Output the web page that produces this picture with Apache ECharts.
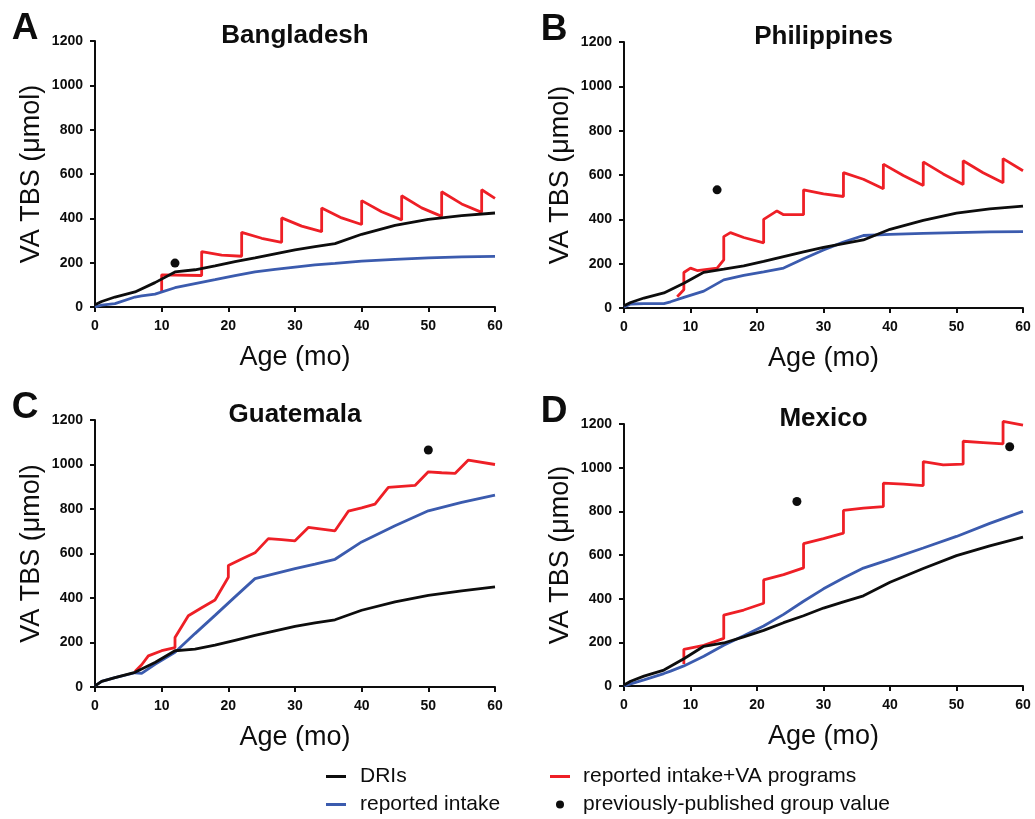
<!DOCTYPE html>
<html>
<head>
<meta charset="utf-8">
<script src="https://cdn.jsdelivr.net/npm/echarts@6/dist/echarts.min.js"></script>
<style>
  html, body { margin: 0; padding: 0; background: #fff; }
  #chart { width: 1035px; height: 819px; }
</style>
</head>
<body>
<div id="chart"></div>
<script>
// ages (months)
const driAge = [0, 1, 3, 6, 9, 12, 15, 18, 21, 24, 27, 30, 33, 36, 40, 45, 50, 55, 60];
const intakeAge = [0, 1, 3, 6, 7, 9, 12, 15, 18, 21, 24, 27, 30, 33, 36, 40, 45, 50, 55, 60];

// DRIs
const driBangladesh = [10, 25, 45, 68, 110, 158, 168, 185, 205, 222, 240, 258, 272, 286, 328, 368, 395, 412, 424];
const driPhilippines = [10, 25, 45, 68, 112, 161, 175, 190, 210, 232, 253, 274, 290, 307, 355, 395, 428, 447, 460];
const driGuatemala = [5, 25, 42, 66, 110, 163, 170, 188, 210, 232, 252, 272, 288, 302, 345, 383, 412, 432, 450];
const driMexico = [5, 22, 45, 73, 125, 182, 197, 225, 255, 290, 322, 357, 385, 413, 475, 538, 597, 642, 682];

// reported intake
const intakeBangladesh = [0, 8, 15, 45, 50, 58, 87, 105, 123, 142, 158, 170, 180, 190, 197, 207, 215, 222, 226, 228];
const intakePhilippines = [5, 18, 20, 20, 28, 48, 76, 127, 147, 163, 180, 222, 262, 297, 327, 332, 337, 340, 343, 345];
const intakeGuatemala = [5, 25, 42, 64, 61, 102, 156, 240, 322, 405, 487, 510, 532, 552, 574, 652, 725, 792, 830, 862];
const intakeMexico = [0, 10, 28, 57, 68, 92, 136, 187, 230, 275, 328, 388, 445, 495, 540, 580, 632, 685, 745, 800];

// reported intake + VA programs
const progAgeBangladesh = [10, 10, 16, 16, 19, 22, 22, 25, 28, 28, 31, 34, 34, 37, 40, 40, 43, 46, 46, 49, 52, 52, 55, 58, 58, 60];
const progBangladesh = [72, 145, 142, 250, 234, 229, 337, 310, 292, 402, 365, 340, 447, 402, 372, 480, 430, 393, 502, 447, 409, 520, 465, 427, 529, 490];
const progAgePhilippines = [8, 9, 9, 10, 11, 14, 15, 15, 16, 18, 21, 21, 23, 24, 27, 27, 30, 33, 33, 36, 39, 39, 42, 45, 45, 48, 51, 51, 54, 57, 57, 60];
const progPhilippines = [51, 82, 160, 180, 169, 180, 217, 322, 340, 318, 294, 400, 438, 421, 421, 533, 515, 503, 611, 581, 538, 649, 598, 553, 659, 605, 557, 664, 610, 565, 674, 619];
const progAgeGuatemala = [6, 7, 8, 10, 12, 12, 14, 16, 18, 20, 20, 22, 24, 26, 28, 30, 32, 34, 36, 38, 40, 42, 44, 46, 48, 50, 52, 54, 56, 60];
const progGuatemala = [70, 100, 140, 163, 177, 222, 320, 356, 391, 493, 546, 575, 603, 667, 662, 657, 717, 710, 702, 790, 805, 822, 897, 902, 906, 967, 963, 960, 1020, 1000];
const progAgeMexico = [9, 9, 12, 15, 15, 18, 21, 21, 24, 27, 27, 30, 33, 33, 36, 39, 39, 42, 45, 45, 48, 51, 51, 54, 57, 57, 60];
const progMexico = [101, 168, 186, 218, 325, 348, 379, 486, 510, 541, 652, 675, 700, 804, 815, 822, 929, 925, 918, 1028, 1013, 1016, 1121, 1115, 1109, 1212, 1195];

// previously-published group values
const pubAgeBangladesh = [12];
const pubBangladesh = [198];
const pubAgePhilippines = [14];
const pubPhilippines = [533];
const pubAgeGuatemala = [50];
const pubGuatemala = [1065];
const pubAgeMexico = [26, 58];
const pubMexico = [845, 1096];

const countries = ["Bangladesh", "Philippines", "Guatemala", "Mexico"];
const letters = ["A", "B", "C", "D"];
const xTicks = [0, 10, 20, 30, 40, 50, 60];
const yTicks = [0, 200, 400, 600, 800, 1000, 1200];

const panels = [
  { dri: driBangladesh, intake: intakeBangladesh, progAge: progAgeBangladesh, prog: progBangladesh, pubAge: pubAgeBangladesh, pub: pubBangladesh },
  { dri: driPhilippines, intake: intakePhilippines, progAge: progAgePhilippines, prog: progPhilippines, pubAge: pubAgePhilippines, pub: pubPhilippines },
  { dri: driGuatemala, intake: intakeGuatemala, progAge: progAgeGuatemala, prog: progGuatemala, pubAge: pubAgeGuatemala, pub: pubGuatemala },
  { dri: driMexico, intake: intakeMexico, progAge: progAgeMexico, prog: progMexico, pubAge: pubAgeMexico, pub: pubMexico },
];

// grid boxes in px: left, top, width, height
const boxes = [
  [95, 41, 400, 266],
  [624, 42, 399, 266],
  [95, 420, 400, 267],
  [624, 424, 399, 262],
];

const FONT = "Arial, 'Liberation Sans', sans-serif";
const INK = "#0d0d0d";
const RED = "#ee1f26";
const BLUE = "#3b5bae";
const LINE_ICON = "path://M0,0H20V3H0Z";

const zip = (xs, ys) => xs.map((x, i) => [x, ys[i]]);

const grid = [], xAxis = [], yAxis = [], series = [], graphic = [];

boxes.forEach((b, i) => {
  const [left, top, width, height] = b;
  grid.push({ left, top, width, height });

  const axisCommon = {
    gridIndex: i,
    type: "value",
    axisLine: { show: true, lineStyle: { color: INK, width: 2 } },
    axisTick: { show: true, length: 5, lineStyle: { color: INK, width: 2 } },
    splitLine: { show: false },
    axisLabel: {
      color: INK, fontFamily: FONT, fontWeight: "bold", fontSize: 14, margin: 12,
      formatter: (v) => String(v),
    },
  };
  xAxis.push({ ...axisCommon, min: xTicks[0], max: xTicks[xTicks.length - 1], interval: 10 });
  yAxis.push({ ...axisCommon, min: yTicks[0], max: yTicks[yTicks.length - 1], interval: 200 });

  const p = panels[i];
  series.push({
    name: "reported intake+VA programs", type: "line", xAxisIndex: i, yAxisIndex: i,
    data: zip(p.progAge, p.prog), symbol: "none", clip: false, z: 2,
    color: RED, lineStyle: { color: RED, width: 2.8 },
  });
  series.push({
    name: "reported intake", type: "line", xAxisIndex: i, yAxisIndex: i,
    data: zip(intakeAge, p.intake), symbol: "none", z: 3,
    color: BLUE, lineStyle: { color: BLUE, width: 2.8 },
  });
  series.push({
    name: "DRIs", type: "line", xAxisIndex: i, yAxisIndex: i,
    data: zip(driAge, p.dri), symbol: "none", z: 4,
    color: INK, lineStyle: { color: INK, width: 2.8 },
  });
  series.push({
    name: "previously-published group value", type: "scatter", xAxisIndex: i, yAxisIndex: i,
    data: zip(p.pubAge, p.pub), symbol: "circle", symbolSize: 9, z: 5,
    color: INK, itemStyle: { color: INK, opacity: 1 },
  });

  // panel title, letter, axis names
  graphic.push({
    type: "text", x: left + width / 2, y: top - 5,
    style: { text: countries[i], font: "bold 26px " + FONT, fill: INK, align: "center", verticalAlign: "middle" },
  });
  graphic.push({
    type: "text", x: left - 70, y: top - 12,
    style: { text: letters[i], font: "bold 37px " + FONT, fill: INK, align: "center", verticalAlign: "middle" },
  });
  graphic.push({
    type: "text", x: left - 63, y: top + height / 2, rotation: Math.PI / 2,
    style: { text: "VA TBS (\u03bcmol)", font: "27px " + FONT, fill: INK, align: "center", verticalAlign: "middle" },
  });
  graphic.push({
    type: "text", x: left + width / 2, y: top + height + 51,
    style: { text: "Age (mo)", font: "27px " + FONT, fill: INK, align: "center", verticalAlign: "middle" },
  });
});

const legendText = { fontFamily: FONT, fontSize: 21, color: INK, lineHeight: 21 };
const legendCommon = {
  orient: "vertical", top: 766, height: 120, padding: 0,
  itemWidth: 20, itemHeight: 8, itemGap: 7,
  selectedMode: false,
};

const option = {
  backgroundColor: "#fff",
  animation: false,
  grid, xAxis, yAxis, series, graphic,
  legend: [
    {
      ...legendCommon, left: 326,
      data: [
        { name: "DRIs", icon: LINE_ICON },
        { name: "reported intake", icon: LINE_ICON },
      ],
      textStyle: { ...legendText, padding: [0, 0, 0, 9] },
    },
    {
      ...legendCommon, left: 550,
      data: [
        { name: "reported intake+VA programs", icon: LINE_ICON },
        { name: "previously-published group value", icon: "circle", itemStyle: { opacity: 1 } },
      ],
      textStyle: { ...legendText, padding: [0, 0, 0, 8] },
    },
  ],
};

const myChart = echarts.init(document.getElementById("chart"), null, { renderer: "canvas" });
myChart.setOption(option);
</script>
</body>
</html>
